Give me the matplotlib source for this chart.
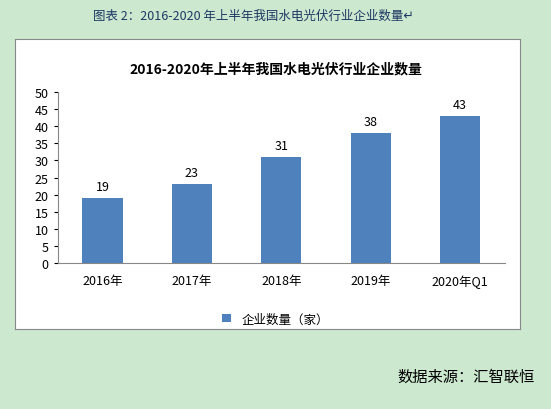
import matplotlib.pyplot as plt
from matplotlib.patches import Patch

plt.rcParams['font.family'] = ['Noto Sans CJK SC', 'DejaVu Sans']

categories = ['2016年', '2017年', '2018年', '2019年', '2020年Q1']
counts = [19, 23, 31, 38, 43]
bar_color = '#4f81bd'
bg = '#cce8cf'

fig = plt.figure(figsize=(5.51, 4.10), dpi=100)
fig.patch.set_facecolor(bg)

# white chart box as a background axes
box = fig.add_axes([0.027, 0.195, 0.917, 0.707], zorder=0)
box.set_facecolor('white')
box.set_xticks([]); box.set_yticks([])
for s in box.spines.values():
    s.set_color('#888888'); s.set_linewidth(0.8)

ax = fig.add_axes([0.105, 0.356, 0.811, 0.417], zorder=1)
ax.set_facecolor('white')
ax.bar(range(len(categories)), counts, width=0.45, color=bar_color)
for i, v in enumerate(counts):
    ax.text(i, v + 1.5, str(v), ha='center', va='bottom', fontsize=9)
ax.set_ylim(0, 50)
ax.set_yticks(range(0, 51, 5))
ax.set_xlim(-0.5, len(categories) - 0.5)
ax.set_xticks(range(len(categories)))
ax.set_xticklabels(categories, fontsize=9)
ax.tick_params(axis='y', labelsize=9, length=3)
ax.tick_params(axis='x', length=0, pad=8)
for s in ['top', 'right']:
    ax.spines[s].set_visible(False)
ax.spines['left'].set_color('#888888')
ax.spines['bottom'].set_color('#888888')

fig.text(0.5, 0.83, '2016-2020年上半年我国水电光伏行业企业数量', ha='center', va='center',
         fontsize=10, fontweight='bold')
fig.text(0.46, 0.96, '图表 2：2016-2020 年上半年我国水电光伏行业企业数量↵', ha='center',
         va='center', fontsize=9, color='#1f3864')
leg = fig.legend(handles=[Patch(facecolor=bar_color, label='企业数量（家）')], loc='center',
                 bbox_to_anchor=(0.5, 0.22), frameon=False, fontsize=9, handlelength=0.7)
leg.set_zorder(3)
fig.text(0.97, 0.08, '数据来源：汇智联恒', ha='right', va='center', fontsize=11)

fig.savefig('out.png', dpi=100, facecolor=bg)
